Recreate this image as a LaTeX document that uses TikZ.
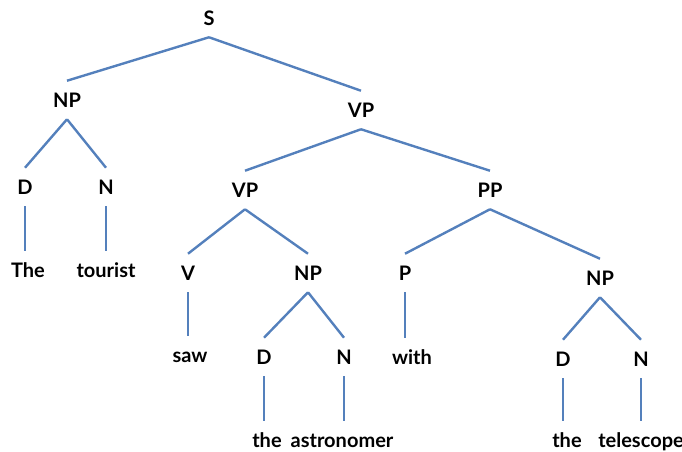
\documentclass[tikz,border=0pt]{standalone}
\usepackage{fontspec}
\setmainfont{Lato}
\begin{document}
\begin{tikzpicture}[x=0.75pt,y=-0.75pt,
  lbl/.style={font=\fontsize{15}{18}\selectfont\bfseries, inner sep=0pt,
    text height=10.8pt, text depth=0pt, minimum height=28.5pt, anchor=center},
  branch/.style={draw=edgeblue, line width=1.8pt}]
\definecolor{edgeblue}{RGB}{84,128,188}
\useasboundingbox (0,0) rectangle (682,452);
% phrase and word labels
\node[lbl] (S)   at (209,18)  {S};
\node[lbl] (NPa) at (67,100)  {NP};
\node[lbl] (VPa) at (361,110) {VP};
\node[lbl] (Da)  at (25,187)  {D};
\node[lbl] (Na)  at (106,187) {N};
\node[lbl] (wThe) at (28,270) {The};
\node[lbl] (wtourist) at (106,270) {tourist};
\node[lbl] (VPb) at (245,190) {VP};
\node[lbl] (PP)  at (490,190) {PP};
\node[lbl] (V)   at (188,273) {V};
\node[lbl] (NPb) at (308,273) {NP};
\node[lbl] (P)   at (405,273) {P};
\node[lbl] (NPc) at (600,278) {NP};
\node[lbl] (wsaw) at (190,355) {saw};
\node[lbl] (Db)  at (264,357) {D};
\node[lbl] (Nb)  at (344,357) {N};
\node[lbl] (wwith) at (412,357) {with};
\node[lbl] (wtheb) at (267,440) {the};
\node[lbl] (wastronomer) at (342,440) {astronomer};
\node[lbl] (Dc)  at (563,359) {D};
\node[lbl] (Nc)  at (641,359) {N};
\node[lbl] (wthec) at (567,440) {the};
\node[lbl] (wtelescope) at (641,440) {telescope};
% branches
\draw[branch] (S.south) -- (NPa.north);
\draw[branch] (S.south) -- (VPa.north);
\draw[branch] (NPa.south) -- (Da.north);
\draw[branch] (NPa.south) -- (Na.north);
\draw[branch] (Da.south) -- (wThe.north -| Da.south);
\draw[branch] (Na.south) -- (wtourist.north -| Na.south);
\draw[branch] (VPa.south) -- (VPb.north);
\draw[branch] (VPa.south) -- (PP.north);
\draw[branch] (VPb.south) -- (V.north);
\draw[branch] (VPb.south) -- (NPb.north);
\draw[branch] (V.south) -- (wsaw.north -| V.south);
\draw[branch] (NPb.south) -- (Db.north);
\draw[branch] (NPb.south) -- (Nb.north);
\draw[branch] (Db.south) -- (wtheb.north -| Db.south);
\draw[branch] (Nb.south) -- (wastronomer.north -| Nb.south);
\draw[branch] (PP.south) -- (P.north);
\draw[branch] (PP.south) -- (NPc.north);
\draw[branch] (P.south) -- (wwith.north -| P.south);
\draw[branch] (NPc.south) -- (Dc.north);
\draw[branch] (NPc.south) -- (Nc.north);
\draw[branch] (Dc.south) -- (wthec.north -| Dc.south);
\draw[branch] (Nc.south) -- (wtelescope.north -| Nc.south);
\end{tikzpicture}
\end{document}
